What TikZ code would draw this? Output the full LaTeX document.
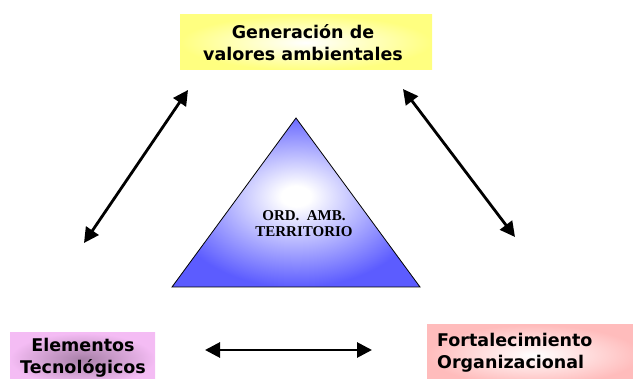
\documentclass[tikz,border=0pt]{standalone}
\usepackage{fontspec}
\setmainfont{DejaVu Sans}
\newfontfamily\serifb{Liberation Serif}
\usetikzlibrary{arrows.meta}
\definecolor{boxyellow}{HTML}{FFFF80}
\definecolor{boxviolet}{HTML}{F4BCF4}
\definecolor{boxviodark}{HTML}{A880A8}
\definecolor{boxpink}{HTML}{FFBCBC}
\definecolor{triblue}{HTML}{5C5CFF}
\pgfdeclareradialshading{trishade}{\pgfpoint{0bp}{2bp}}{color(0bp)=(white); color(3bp)=(white); color(26bp)=(triblue); color(50bp)=(triblue)}
\tikzset{
  lbl/.style={font=\fontsize{17.5}{22}\selectfont\bfseries, text=black, inner sep=0pt},
  dbl/.style={{Triangle[length=15pt,width=15pt]}-{Triangle[length=15pt,width=15pt]}, line width=2.8pt, black},
}
\begin{document}
\begin{tikzpicture}[x=1pt,y=-1pt]
\useasboundingbox (0,0) rectangle (633,379);
% boxes
\path[shading=radial, inner color=white, outer color=boxyellow] (180,15) rectangle (432,70);
\path[shading=radial, inner color=boxviodark, outer color=boxviolet] (10,333) rectangle (155,385);
\path[shading=radial, inner color=white, outer color=boxpink] (427,325) rectangle (640,385);
% triangle
\path[draw=black, line width=0.8pt, shading=trishade] (296,118) -- (420,287) -- (172,287) -- cycle;
% texts
\node[lbl, align=center] (gen) at (303,43) {Generación de\\valores ambientales};
\node[lbl, align=center] (ele) at (83,358) {Elementos\\Tecnológicos};
\node[lbl, align=left, anchor=west] (fort) at (437,353) {Fortalecimiento\\Organizacional};
\node[font=\serifb\fontsize{15}{16}\selectfont\bfseries, align=center, inner sep=0pt] (ord) at (304,224) {ORD.~~AMB.\\TERRITORIO};
% arrow ends
\coordinate (l1) at (188,90);
\coordinate (l2) at (84,243);
\coordinate (r1) at (403,89);
\coordinate (r2) at (515,237);
\coordinate (b1) at (205,350);
\coordinate (b2) at (372,350);
\draw[dbl] (l1) -- (l2);
\draw[dbl] (r1) -- (r2);
\draw[dbl] (b1) -- (b2);
\end{tikzpicture}
\end{document}
